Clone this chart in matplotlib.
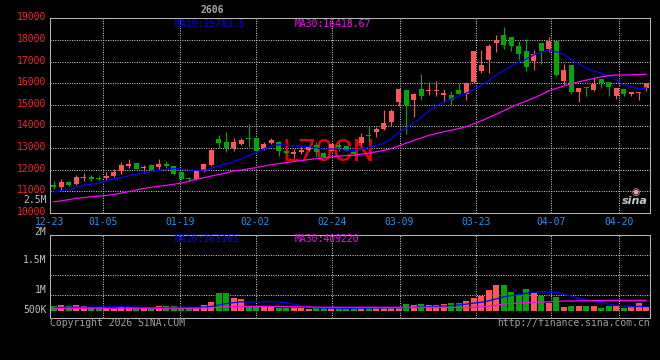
import numpy as np
import matplotlib
matplotlib.use("Agg")
import matplotlib.pyplot as plt
from matplotlib.transforms import ScaledTranslation

# ---------------- data ----------------
opens = [11303, 11182, 11455, 11349, 11606, 11651, 11636, 11606, 11712, 11940,
         12182, 12303, 12061, 12212, 12106, 12285, 12195, 11894, 11639, 11564,
         11940, 12240, 13413, 13278, 13022, 13188, 13459, 13459, 12962, 13220,
         13266, 12868, 12745, 12837, 12898, 13143, 12760, 12868, 13143, 13113,
         12800, 13220, 13600, 13760, 13880, 14212, 15121, 15697, 15212, 15742,
         15621, 15621, 15454, 15470, 15667, 15515, 16076, 16560, 17060, 17848,
         18242, 18151, 17697, 17470, 17030, 17864, 17591, 17939, 16121, 16833,
         15576, 15818, 15697, 16182, 16060, 15394, 15727, 15515, 15530, 15757]
highs = [11470, 11560, 11500, 11758, 11848, 11758, 11712, 11909, 12015, 12364,
         12485, 12303, 12212, 12288, 12485, 12420, 12240, 11924, 11660, 11970,
         12315, 12947, 13594, 13729, 13459, 13489, 14120, 13459, 13278, 13450,
         13327, 12900, 12960, 13067, 13120, 13266, 12800, 13200, 13327, 13113,
         12830, 13680, 14015, 13985, 14780, 14788, 15742, 15697, 15550, 16424,
         16076, 16106, 15727, 15621, 16030, 16076, 17500, 17545, 17800, 18242,
         18576, 18151, 17970, 18045, 17545, 17864, 18121, 18000, 16909, 16833,
         15800, 15830, 16273, 16182, 16060, 15790, 15727, 15590, 15606, 16000]
lows = [11090, 11046, 11227, 11303, 11485, 11470, 11530, 11530, 11682, 11818,
        12076, 12030, 11849, 11955, 11985, 12090, 11744, 11533, 11413, 11518,
        11894, 12195, 13022, 12797, 12887, 13143, 13067, 12857, 12917, 13200,
        12654, 12700, 12562, 12715, 12868, 12608, 12580, 12850, 12868, 12850,
        12700, 13150, 13296, 13526, 13850, 14030, 14940, 13650, 14455, 15212,
        15470, 15424, 15121, 15015, 15500, 15212, 16030, 16454, 16485, 17439,
        17590, 17485, 17060, 16576, 16606, 16909, 17439, 16330, 15924, 15520,
        15121, 15394, 15621, 15773, 15394, 15273, 15394, 15424, 15242, 15620]
closes = [11197, 11440, 11273, 11682, 11636, 11591, 11591, 11727, 11909, 12212,
          12258, 12046, 12136, 12000, 12258, 12165, 11789, 11564, 11564, 11940,
          12285, 12917, 13218, 13022, 13278, 13368, 13429, 12887, 13203, 13375,
          12868, 12761, 12807, 12914, 13082, 12807, 12610, 13174, 13067, 12868,
          12740, 13526, 13560, 13860, 14150, 14697, 15742, 15000, 15515, 15424,
          15697, 15697, 15545, 15242, 15515, 16030, 17485, 16833, 17742, 18000,
          17788, 17697, 17364, 16758, 17364, 17485, 17939, 16379, 16606, 15576,
          15773, 15757, 15955, 16000, 15833, 15773, 15515, 15576, 15590, 16000]
ma10 = [10970, 11030, 11076, 11180, 11273, 11330, 11380, 11480, 11576, 11626,
        11732, 11793, 11879, 11911, 11973, 12030, 12050, 12034, 11999, 11972,
        11975, 12062, 12170, 12272, 12374, 12495, 12659, 12791, 12955, 13098,
        13157, 13141, 13100, 13089, 13069, 13013, 12931, 12960, 12947, 12896,
        12883, 12960, 13035, 13129, 13236, 13425, 13738, 13921, 14166, 14421,
        14717, 14934, 15133, 15271, 15407, 15541, 15715, 15898, 16121, 16379,
        16588, 16788, 16970, 17121, 17306, 17452, 17497, 17452, 17338, 17096,
        16894, 16700, 16559, 16483, 16330, 16159, 15917, 15836, 15735, 15783.5]
ma30 = [10520, 10560, 10620, 10680, 10710, 10750, 10780, 10810, 10850, 10920,
        10990, 11060, 11140, 11190, 11235, 11280, 11330, 11380, 11470, 11560,
        11630, 11710, 11780, 11860, 11940, 11990, 12040, 12100, 12170, 12232,
        12288, 12332, 12383, 12424, 12472, 12513, 12547, 12595, 12633, 12655,
        12671, 12721, 12768, 12830, 12893, 12978, 13109, 13224, 13356, 13472,
        13586, 13678, 13756, 13830, 13904, 13993, 14128, 14260, 14411, 14565,
        14729, 14894, 15046, 15174, 15317, 15473, 15650, 15757, 15875, 15965,
        16066, 16141, 16221, 16292, 16348, 16384, 16376, 16395, 16398, 16418.67]
volume_k = [186, 225, 186, 225, 186, 130, 130, 91, 51, 130,
            130, 91, 130, 130, 186, 186, 186, 91, 91, 130,
            225, 356, 711, 711, 514, 462, 130, 186, 130, 130,
            91, 91, 91, 91, 51, 91, 91, 130, 130, 91,
            91, 130, 130, 130, 91, 91, 91, 265, 225, 265,
            225, 225, 265, 316, 316, 395, 514, 581, 818, 1015,
            1015, 751, 660, 857, 711, 581, 316, 525, 130, 186,
            186, 186, 186, 91, 186, 186, 91, 130, 288, 130]
vol_ma10_k = [130, 130, 134, 138, 138, 142, 146, 150, 154, 154,
              149, 135, 130, 120, 120, 126, 131, 131, 135, 135,
              145, 171, 229, 287, 320, 348, 342, 352, 356, 356,
              342, 316, 254, 192, 145, 108, 104, 99, 99, 95,
              95, 99, 103, 107, 111, 111, 111, 124, 134, 151,
              164, 174, 187, 206, 228, 259, 301, 333, 392, 467,
              546, 598, 638, 692, 732, 750, 730, 725, 656, 573,
              490, 434, 386, 310, 257, 218, 195, 156, 171, 163.165]
vol_ma30_k = [99, 99, 99, 99, 99, 99, 99, 99, 99, 99,
              99, 99, 99, 99, 99, 99, 99, 99, 99, 99,
              103, 115, 134, 150, 160, 168, 170, 172, 172, 170,
              165, 160, 155, 150, 145, 140, 135, 135, 135, 135,
              135, 135, 135, 135, 135, 135, 135, 135, 135, 135,
              135, 135, 130, 130, 130, 130, 140, 155, 185, 215,
              263, 285, 300, 316, 330, 340, 350, 370, 380, 385,
              390, 395, 398, 400, 402, 405, 407, 407, 408, 409.22]
tick_labels = ["12-23", "01-05", "01-19", "02-02", "02-24", "03-09", "03-23", "04-07", "04-20"]
tick_pos = [-0.5, 6.6, 16.8, 26.9, 37.1, 46.1, 56.3, 66.3, 75.4]
price_ticks = [10000, 11000, 12000, 13000, 14000, 15000, 16000, 17000, 18000, 19000]
vol_labels = ["2.5M", "2M", "1.5M", "1M", "500K"]
title = "2606"
watermark = "L70CN"

# ---------------- style ----------------
RED = "#ff5555"
GREEN = "#00a800"
BLUE = "#0000ff"
MAGENTA = "#ff00ff"
GRID = "#c8c8c8"
SPINE = "#b4b4b4"
MONO = "DejaVu Sans Mono"
FS = 7.0
W, H = 660, 360


def fx(px):
    return px / W


def fy(py):
    return 1 - py / H


fig = plt.figure(figsize=(6.6, 3.6), dpi=100, facecolor="black")
ax1 = fig.add_axes([fx(50), fy(213), 600 / W, (213 - 18.3) / H], facecolor="black")
ax2 = fig.add_axes([fx(50), fy(318.3), 600 / W, (318.3 - 235) / H], facecolor="black")
for ax in (ax1, ax2):
    ax.set_axisbelow(True)

o = np.array(opens, float)
h = np.array(highs, float)
l = np.array(lows, float)
c = np.array(closes, float)
x = np.arange(len(c))
up = c >= o
cols = np.where(up, RED, GREEN)

# watermark inside the price panel
ax1.text(0.465, 0.31, watermark, transform=ax1.transAxes, ha="center", va="center",
         color="#e80000", family=["Roboto", "DejaVu Sans"], fontweight="normal",
         fontsize=22, zorder=2)

# candles
ax1.vlines(x, l, h, colors=cols, lw=0.8, zorder=3)
body_bottom = np.minimum(o, c)
body_h = np.maximum(np.abs(c - o), 40)
ax1.bar(x, body_h, bottom=body_bottom, width=0.72, color=cols, lw=0, zorder=4)
ax1.plot(x, ma10, color=BLUE, lw=0.9, zorder=5)
ax1.plot(x, ma30, color=MAGENTA, lw=0.9, zorder=5)

ax1.set_xlim(-0.5, len(c) - 0.5)
ax1.set_ylim(10000, 19000)
ax1.set_yticks(price_ticks)
ax1.set_yticklabels([str(t) for t in price_ticks])
ax1.set_xticks(tick_pos)
ax1.set_xticklabels(tick_labels)
ax1.grid(True, color=GRID, lw=0.75, linestyle=(0, (1, 1.3)))
ax1.tick_params(axis="y", length=0, pad=3.0, labelsize=FS, labelcolor="#ff2020")
ax1.tick_params(axis="x", length=0, pad=2.8, labelsize=FS, labelcolor="#2a90f0")
for lab in ax1.get_yticklabels():
    lab.set_family(MONO)
    lab.set_transform(lab.get_transform() + ScaledTranslation(0, 0.02, fig.dpi_scale_trans))
for lab in ax1.get_xticklabels():
    lab.set_family(MONO)

# volume panel
vol = np.array(volume_k) * 1000
ax2.bar(x, vol, width=0.8, color=cols, lw=0, zorder=3)
ax2.plot(x, np.array(vol_ma10_k) * 1000, color=BLUE, lw=0.9, zorder=5)
ax2.plot(x, np.array(vol_ma30_k) * 1000, color=MAGENTA, lw=0.9, zorder=5)
ax2.set_xlim(-0.5, len(c) - 0.5)
ax2.set_ylim(-300000, 2990000)
ax2.set_yticks([608000, 1410000, 2200000])
ax2.set_yticklabels([])
ax2.set_xticks(tick_pos[1:])
ax2.set_xticklabels([])
ax2.grid(True, color=GRID, lw=0.75, linestyle=(0, (1, 1.3)))
ax2.tick_params(length=0)

for ax in (ax1, ax2):
    for s in ax.spines.values():
        s.set_color(SPINE)
        s.set_linewidth(0.75)

# texts
txt = dict(family=MONO, fontsize=FS, va="center")
fig.text(fx(212), fy(10), title, color="#a8a8a8", ha="center", fontweight="bold", **txt)
fig.text(fx(175), fy(24), "MA10:15783.5", color=BLUE, ha="left", **txt)
fig.text(fx(295), fy(24), "MA30:16418.67", color=MAGENTA, ha="left", **txt)
fig.text(fx(175), fy(238.5), "MA10:163165", color=BLUE, ha="left", **txt)
fig.text(fx(295), fy(238.5), "MA30:409220", color=MAGENTA, ha="left", **txt)
for lab, py in zip(vol_labels, [200.3, 231.5, 260.3, 290.3, 310.3]):
    fig.text(fx(46.5), fy(py), lab, color="#c0c0c0", ha="right", **txt)
fig.text(fx(50), fy(323.5), "Copyright 2026 SINA.COM", color="#a0a0a0", ha="left", **txt)
fig.text(fx(649.5), fy(323.5), "http://finance.sina.com.cn", color="#a0a0a0", ha="right", **txt)
# sina logo (text)
fig.text(fx(636), fy(192), "\u25c9", color="#f0a0a0", ha="center", va="center", fontsize=7,
         family="DejaVu Sans")
fig.text(fx(635), fy(201), "sina", color="#c8c8c8", ha="center", va="center", fontsize=8,
         family="DejaVu Sans", style="italic", fontweight="bold")

fig.savefig("out.png", dpi=100, facecolor="black")
